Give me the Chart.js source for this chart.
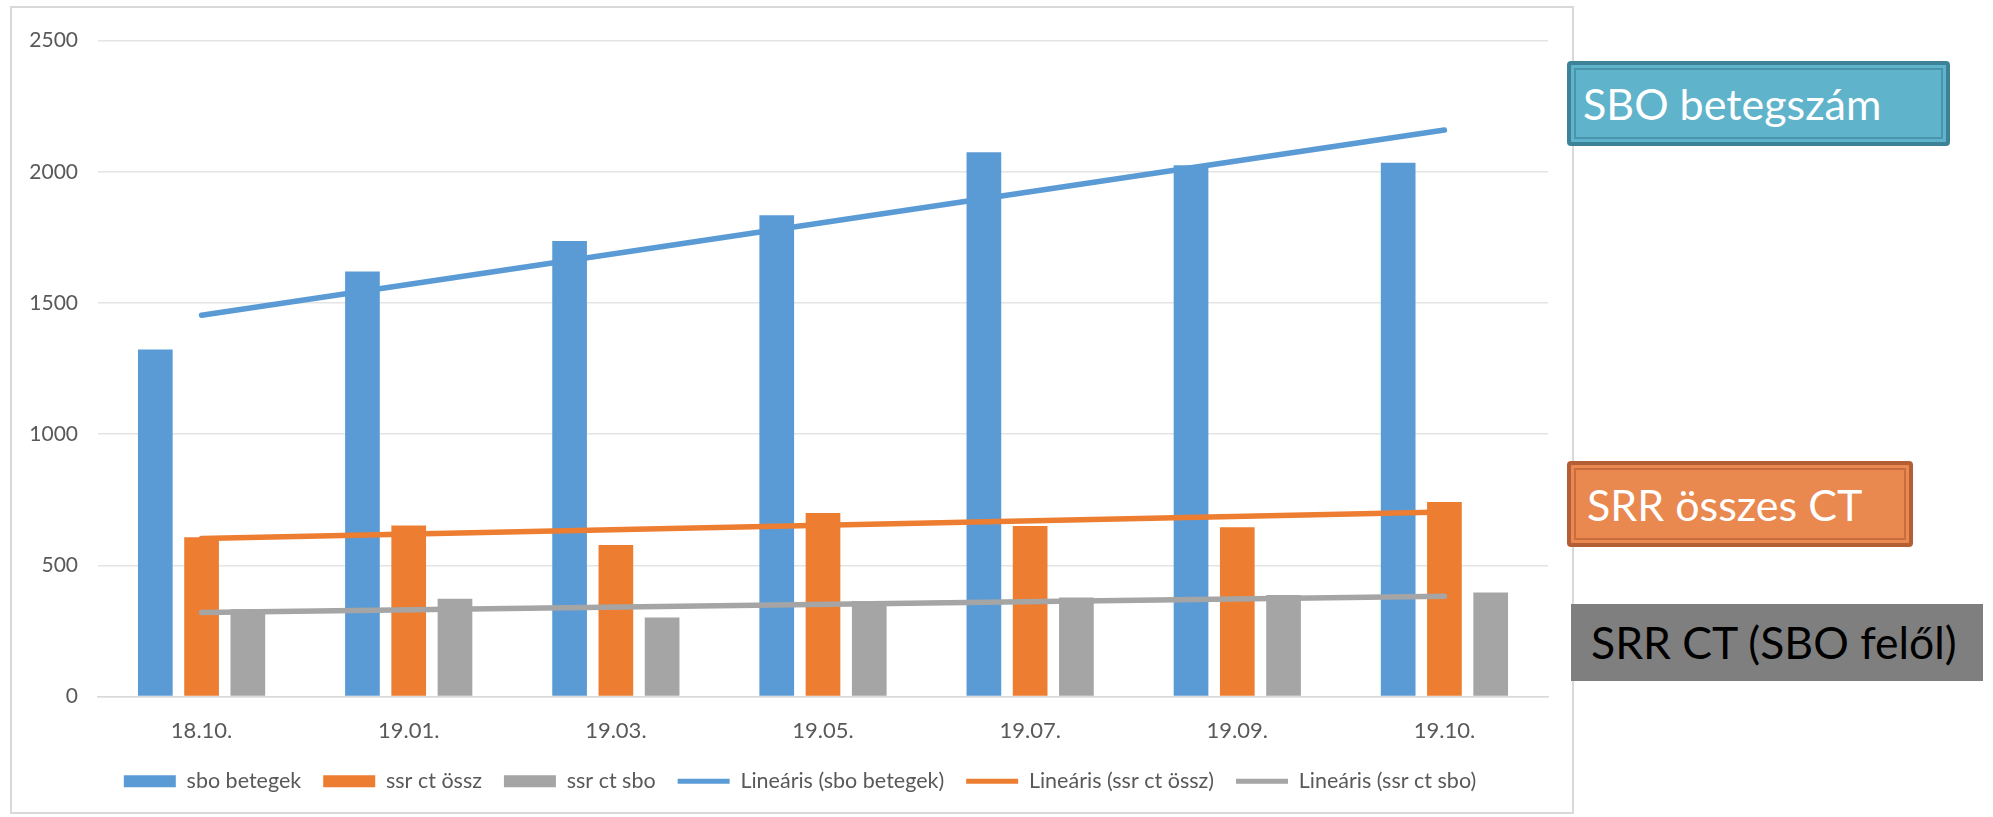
<!DOCTYPE html>
<html lang="hu">
<head>
<meta charset="utf-8">
<title>SBO betegszám és SRR CT</title>
<script src="https://cdn.jsdelivr.net/npm/chart.js@4.4.1/dist/chart.umd.min.js"></script>
<style>
  html, body { margin: 0; padding: 0; background: #ffffff; }
  body { width: 1993px; height: 817px; position: relative; overflow: hidden; font-family: Lato, "Open Sans", sans-serif; }
  #frame { position: absolute; left: 10px; top: 6px; width: 1560px; height: 804px; border: 2px solid #d9d9d9; background: #fff; }
  #frame canvas { display: block; }
  .tag { position: absolute; box-sizing: border-box; display: flex; align-items: center; padding-left: 12px; font-size: 43px; line-height: 1; white-space: nowrap; }
  #tagSbo { left: 1567px; top: 61px; width: 383px; height: 85px; background: #5fb3cb; color: #fff;
            border: 4px solid #3e8298; border-radius: 4px; box-shadow: inset 0 0 0 3px #5fb3cb, inset 0 0 0 5px #4a95ab; }
  #tagSrr { left: 1567px; top: 461px; width: 346px; height: 86px; background: #e9884f; color: #fff; padding-left: 16px;
            border: 4px solid #b35e34; border-radius: 4px; box-shadow: inset 0 0 0 3px #e9884f, inset 0 0 0 5px #c96d3e; }
  #tagCt  { left: 1571px; top: 604px; width: 412px; height: 77px; background: #7f7f7f; color: #000; padding-left: 20px; font-size: 44.5px; }
</style>
</head>
<body>
<div id="frame"><canvas id="chart" width="1560" height="804"></canvas></div>
<div class="tag" id="tagSbo">SBO betegszám</div>
<div class="tag" id="tagSrr">SRR összes CT</div>
<div class="tag" id="tagCt">SRR CT (SBO felől)</div>
<script>
// Monthly samples
const categories = ['18.10.', '19.01.', '19.03.', '19.05.', '19.07.', '19.09.', '19.10.'];
const sboBetegek = [1323, 1620, 1736, 1834, 2074, 2025, 2034];
const ssrCtOssz  = [607, 652, 577, 699, 650, 645, 741];
const ssrCtSbo   = [333, 373, 301, 364, 377, 387, 396];

// Linear trend lines: values at the first and last month, joined straight across
const trendSbo  = [1453, null, null, null, null, null, 2159];
const trendOssz = [602, null, null, null, null, null, 703];
const trendCtSbo = [320, null, null, null, null, null, 382];

const yTicks = [0, 500, 1000, 1500, 2000, 2500];

const BLUE = '#5b9bd5', ORANGE = '#ed7d31', GRAY = '#a5a5a5';
const TEXT = '#595959';

function barSet(label, data, color) {
  return { type: 'bar', label, data, backgroundColor: color, borderWidth: 0, order: 2,
           categoryPercentage: 0.67, barPercentage: 0.75 };
}
function trendSet(label, data, color) {
  return { type: 'line', label, data, borderColor: color, backgroundColor: color, borderWidth: 5.5,
           pointRadius: 0, spanGaps: true, tension: 0, order: 1, borderCapStyle: 'round' };
}

// Centre the legend row on the whole frame rather than on the padded layout box
const legendCentering = {
  id: 'legendCentering',
  afterLayout(chart) {
    const lg = chart.legend;
    if (lg) { lg.left += 20; lg.right += 20; }
  }
};

new Chart(document.getElementById('chart'), {
  plugins: [legendCentering],
  data: {
    labels: categories,
    datasets: [
      barSet('sbo betegek', sboBetegek, BLUE),
      barSet('ssr ct össz', ssrCtOssz, ORANGE),
      barSet('ssr ct sbo', ssrCtSbo, GRAY),
      trendSet('Lineáris (sbo betegek)', trendSbo, BLUE),
      trendSet('Lineáris (ssr ct össz)', trendOssz, ORANGE),
      trendSet('Lineáris (ssr ct sbo)', trendCtSbo, GRAY)
    ]
  },
  options: {
    responsive: false,
    animation: false,
    layout: { padding: { top: 30, right: 24, bottom: 10, left: 0 } },
    scales: {
      x: {
        grid: { display: false, drawTicks: false },
        border: { display: true, color: '#d9d9d9', width: 1.5 },
        ticks: { color: TEXT, font: { family: 'Lato', size: 22 }, padding: 21 },
        afterFit: (s) => { s.height = 52; }
      },
      y: {
        min: 0, max: 2500,
        afterBuildTicks: (s) => { s.ticks = yTicks.map(v => ({ value: v })); },
        grid: { color: '#e4e4e4', lineWidth: 1.5, drawTicks: false },
        border: { display: false },
        ticks: { color: TEXT, font: { family: 'Lato', size: 21 }, padding: 20, callback: (v) => String(v) },
        afterFit: (s) => { s.width = 86; }
      }
    },
    plugins: {
      tooltip: { enabled: false },
      legend: {
        position: 'bottom',
        labels: {
          usePointStyle: true,
          pointStyleWidth: 52,
          boxHeight: 12,
          padding: 22,
          color: TEXT,
          font: { family: 'Lato', size: 21.5 },
          generateLabels: (chart) => chart.data.datasets.map((ds, i) => {
            const isLine = ds.type === 'line';
            const c = isLine ? ds.borderColor : ds.backgroundColor;
            return { text: ds.label, fillStyle: c, strokeStyle: c, lineWidth: isLine ? 5 : 0,
                     pointStyle: isLine ? 'line' : 'rect', hidden: false, datasetIndex: i, fontColor: TEXT };
          })
        }
      }
    }
  }
});
</script>
</body>
</html>
